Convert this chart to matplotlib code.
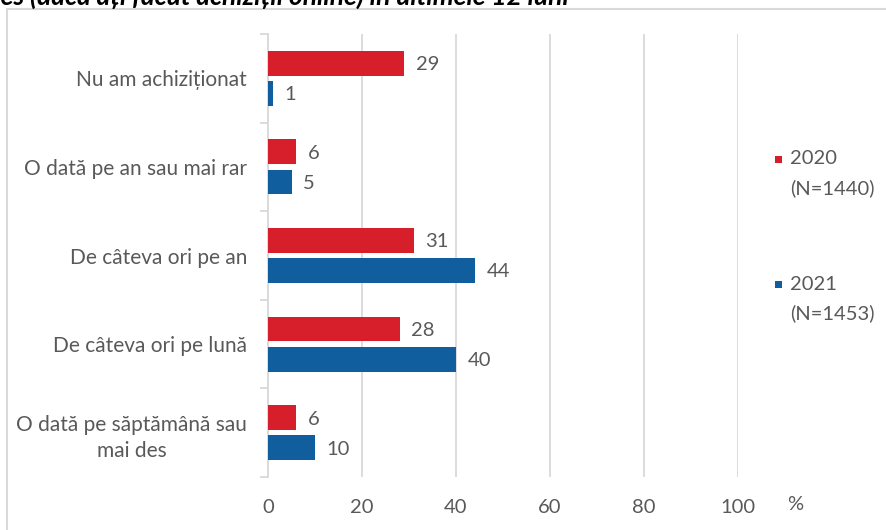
import matplotlib
matplotlib.use("Agg")
import matplotlib.pyplot as plt
from matplotlib.patches import Rectangle
import numpy as np

categories = [
    "Nu am achiziționat",
    "O dată pe an sau mai rar",
    "De câteva ori pe an",
    "De câteva ori pe lună",
    "O dată pe săptămână sau\nmai des",
]
values_2020 = [29, 6, 31, 28, 6]
values_2021 = [1, 5, 44, 40, 10]
series_labels = ["2020", "2021"]
series_notes = ["(N=1440)", "(N=1453)"]
x_ticks = [0, 20, 40, 60, 80, 100]

RED = "#D71F2B"
BLUE = "#115E9E"
TEXT = "#595959"
GRID = "#D9D9D9"
FS = 14.5

plt.rcParams["font.family"] = ["Lato", "DejaVu Sans"]

W, H = 886, 530
fig = plt.figure(figsize=(W / 100, H / 100), dpi=100)

def fx(px):
    return px / W

def fy(py):
    return 1 - py / H

# chart frame
fig.patches.append(Rectangle((fx(7), fy(540)), fx(900), fy(9) - fy(540),
                             transform=fig.transFigure, fill=False,
                             edgecolor=GRID, linewidth=1.5))

# title line, running off the top of the canvas
fig.text(fx(569), fy(4.5), "Cât de des (dacă ați făcut achiziții online) în ultimele 12 luni",
         ha="right", va="baseline", fontsize=19, fontweight="bold", fontstyle="italic",
         color="black")

ax = fig.add_axes([fx(268), fy(477), fx(738) - fx(268), fy(34) - fy(477)])

y = np.arange(len(categories))
h = 0.28
off = 0.17
b1 = ax.barh(y - off, values_2020, height=h, color=RED, zorder=3)
b2 = ax.barh(y + off, values_2021, height=h, color=BLUE, zorder=3)

for bars, vals in ((b1, values_2020), (b2, values_2021)):
    for bar, v in zip(bars, vals):
        ax.annotate(f"{v}", (bar.get_width(), bar.get_y() + bar.get_height() / 2),
                    xytext=(8.5, -1), textcoords="offset points", ha="left", va="center",
                    fontsize=FS, color=TEXT)

ax.set_xlim(0, 100)
ax.set_ylim(len(categories) - 0.5, -0.5)
ax.set_xticks(x_ticks)
ax.set_xticklabels([str(t) for t in x_ticks])
ax.xaxis.grid(True, color=GRID, linewidth=1.3, zorder=0)
ax.tick_params(axis="x", length=0, pad=16, labelsize=FS, labelcolor=TEXT)

ax.set_yticks(y)
ax.set_yticklabels(categories, multialignment="center", linespacing=1.4)
ax.set_yticks(np.arange(len(categories) + 1) - 0.5, minor=True)
ax.tick_params(axis="y", which="major", length=0, pad=15, labelsize=15, labelcolor=TEXT)
ax.tick_params(axis="y", which="minor", length=6, color=GRID, width=1.3)

for s in ("top", "right", "bottom"):
    ax.spines[s].set_visible(False)
ax.spines["left"].set_color(GRID)
ax.spines["left"].set_linewidth(1.3)

fig.text(fx(787), fy(504), "%", ha="left", va="center", fontsize=FS, color=TEXT)

# legend
for color, lab, note, py in ((RED, series_labels[0], series_notes[0], 159),
                             (BLUE, series_labels[1], series_notes[1], 284)):
    fig.patches.append(Rectangle((fx(775), fy(py + 3.5)), fx(7), fy(0) - fy(7),
                                 transform=fig.transFigure, facecolor=color,
                                 edgecolor="none"))
    fig.text(fx(790), fy(py), lab, ha="left", va="center", fontsize=FS, color=TEXT)
    fig.text(fx(790), fy(py + 29), note, ha="left", va="center", fontsize=FS, color=TEXT)

fig.savefig("out.png", dpi=100)
